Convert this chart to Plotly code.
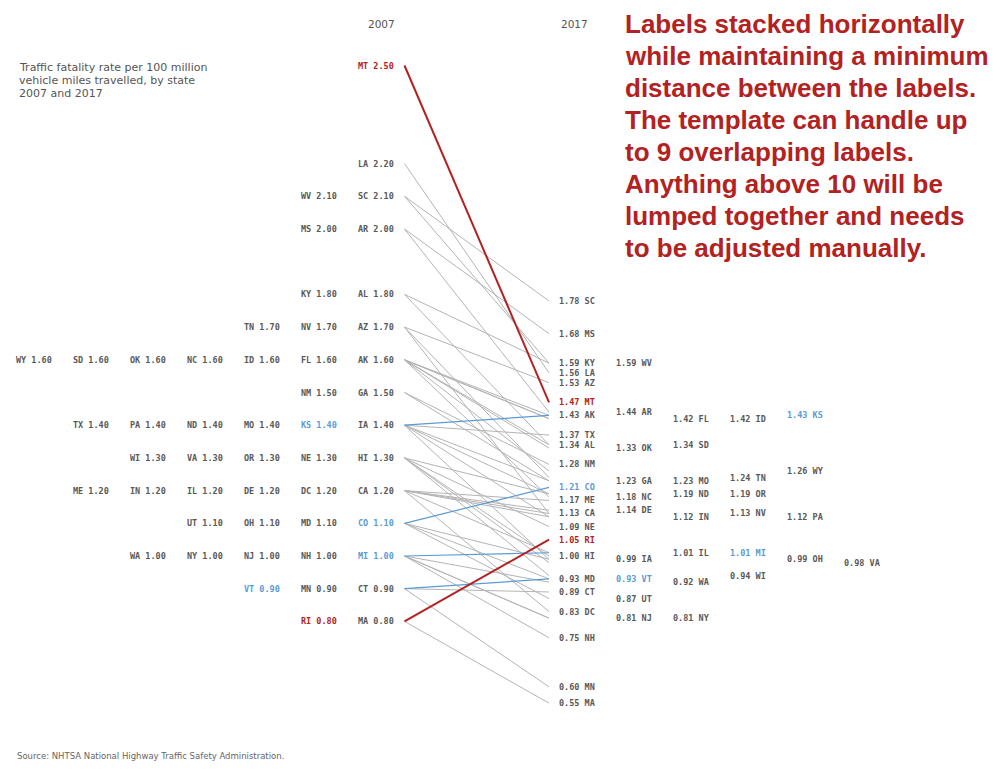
import plotly.graph_objects as go

# ---------------- data ----------------
states = ["AK", "AL", "AR", "AZ", "CA", "CO", "CT", "DC", "DE", "FL", "GA", "HI", "IA",
          "ID", "IL", "IN", "KS", "KY", "LA", "MA", "MD", "ME", "MI", "MN", "MO", "MS",
          "MT", "NC", "ND", "NE", "NH", "NJ", "NM", "NV", "NY", "OH", "OK", "OR", "PA",
          "RI", "SC", "SD", "TN", "TX", "UT", "VA", "VT", "WA", "WI", "WV", "WY"]
rate_2007 = [1.60, 1.80, 2.00, 1.70, 1.20, 1.10, 0.90, 1.20, 1.20, 1.60, 1.50, 1.30, 1.40,
             1.60, 1.20, 1.20, 1.40, 1.80, 2.20, 0.80, 1.10, 1.20, 1.00, 0.90, 1.40, 2.00,
             2.50, 1.60, 1.40, 1.30, 1.00, 1.00, 1.50, 1.70, 1.00, 1.10, 1.60, 1.30, 1.40,
             0.80, 2.10, 1.60, 1.70, 1.40, 1.10, 1.30, 0.90, 1.00, 1.30, 2.10, 1.60]
rate_2017 = [1.43, 1.34, 1.44, 1.53, 1.13, 1.21, 0.89, 0.83, 1.14, 1.42, 1.23, 1.00, 0.99,
             1.42, 1.01, 1.12, 1.43, 1.59, 1.56, 0.55, 0.93, 1.17, 1.01, 0.60, 1.23, 1.68,
             1.47, 1.18, 1.19, 1.09, 0.75, 0.81, 1.28, 1.13, 0.81, 0.99, 1.33, 1.19, 1.12,
             1.05, 1.78, 1.34, 1.24, 1.37, 0.87, 0.98, 0.93, 0.92, 0.94, 1.59, 1.26]
years = ["2007", "2017"]
highlight_red = ["MT", "RI"]
highlight_blue = ["KS", "CO", "MI", "VT"]

# horizontal stacking slot of each 2017 label (layout helper)
label_slot_2017 = [0, 0, 1, 0, 0, 0, 0, 0, 1, 2, 1, 0, 1,
                   3, 2, 2, 4, 0, 0, 0, 0, 0, 3, 0, 2, 0,
                   0, 1, 2, 0, 0, 1, 0, 3, 2, 4, 1, 3, 4,
                   0, 0, 2, 3, 0, 1, 5, 1, 2, 3, 1, 4]

title_lines = ["Traffic fatality rate per 100 million",
               "vehicle miles travelled, by state",
               "2007 and 2017"]
note_lines = ["Labels stacked horizontally",
              "while maintaining a minimum",
              "distance between the labels.",
              "The template can handle up",
              "to 9 overlapping labels.",
              "Anything above 10 will be",
              "lumped together and needs",
              "to be adjusted manually."]
source_text = "Source: NHTSA National Highway Traffic Safety Administration."

# ---------------- styling ----------------
OFF = 8                      # page body margin of the browser
W, H = 1005 - 2 * OFF, 771 - 2 * OFF
X0_PX, X1_PX = 404.5 - OFF, 549.0 - OFF
Y_TOP_VAL, Y_TOP_PX, PX_PER_UNIT = 2.5, 65.5 - OFF, 327.0
GRAY_LINE = "#b4b4b4"
RED = "#b22222"
BLUE = "#5b9bd5"
LABEL_GRAY = "#595959"
SLOT_W = 57

scale_x = X1_PX - X0_PX
xr = [-X0_PX / scale_x, (W - X0_PX) / scale_x]
yr = [Y_TOP_VAL - (H - Y_TOP_PX) / PX_PER_UNIT, Y_TOP_VAL + Y_TOP_PX / PX_PER_UNIT]


def px_x(p):
    return (p - OFF) / W


def px_y(p):
    return 1 - (p - OFF) / H


def color_of(s):
    if s in highlight_red:
        return RED
    if s in highlight_blue:
        return BLUE
    return None


# left slots: alphabetical rank among equal 2007 values
slot_2007 = []
for i, s in enumerate(states):
    same = sorted(t for t, v in zip(states, rate_2007) if abs(v - rate_2007[i]) < 1e-9)
    slot_2007.append(same.index(s))

fig = go.Figure()

order = ([i for i, s in enumerate(states) if color_of(s) is None]
         + [i for i, s in enumerate(states) if s in highlight_blue]
         + [i for i, s in enumerate(states) if s in highlight_red])
for i in order:
    s = states[i]
    c = color_of(s)
    fig.add_trace(go.Scatter(
        x=[0, 1], y=[rate_2007[i], rate_2017[i]], mode="lines",
        line=dict(color=c or GRAY_LINE, width=2 if c == RED else (1.2 if c else 1)),
        hoverinfo="skip", showlegend=False))

annotations = []
lab_font = "DejaVu Sans Mono"
for i, s in enumerate(states):
    c = color_of(s) or LABEL_GRAY
    annotations.append(dict(
        x=0, y=rate_2007[i], xref="x", yref="y", text=f"{s} {rate_2007[i]:.2f}",
        showarrow=False, xanchor="right", yanchor="middle",
        xshift=-(8.5 + SLOT_W * slot_2007[i]),
        font=dict(family=lab_font, size=8.5, color=c, weight="bold")))
    annotations.append(dict(
        x=1, y=rate_2017[i], xref="x", yref="y", text=f"{rate_2017[i]:.2f} {s}",
        showarrow=False, xanchor="left", yanchor="middle",
        xshift=8 + SLOT_W * label_slot_2017[i],
        font=dict(family=lab_font, size=8.5, color=c, weight="bold")))

# year headers
for xv, yr_lab in zip([0, 1], years):
    annotations.append(dict(
        x=xv, y=px_y(24), xref="x", yref="paper", text=yr_lab, showarrow=False,
        xanchor="right" if xv == 0 else "left", yanchor="middle",
        xshift=-8 if xv == 0 else 10,
        font=dict(family="DejaVu Sans", size=10.5, color="#555555")))

# title
for k, line in enumerate(title_lines):
    annotations.append(dict(
        x=px_x(17), y=px_y(67 + 13 * k), xref="paper", yref="paper", text=line,
        showarrow=False, xanchor="left", yanchor="middle",
        font=dict(family="DejaVu Sans", size=11, color="#555555")))

# note
for k, line in enumerate(note_lines):
    annotations.append(dict(
        x=px_x(623), y=px_y(24 + 32 * k), xref="paper", yref="paper", text=line,
        showarrow=False, xanchor="left", yanchor="middle",
        font=dict(family="Liberation Sans", size=26, color=RED, weight="bold")))

# source
annotations.append(dict(
    x=px_x(15), y=px_y(756), xref="paper", yref="paper", text=source_text,
    showarrow=False, xanchor="left", yanchor="middle",
    font=dict(family="DejaVu Sans", size=8.5, color="#666666")))

fig.update_layout(
    width=W, height=H, margin=dict(l=0, r=0, t=0, b=0),
    paper_bgcolor="white", plot_bgcolor="white",
    xaxis=dict(range=xr, visible=False, fixedrange=True),
    yaxis=dict(range=yr, visible=False, fixedrange=True),
    annotations=annotations, showlegend=False)

fig.write_html("out.html")
